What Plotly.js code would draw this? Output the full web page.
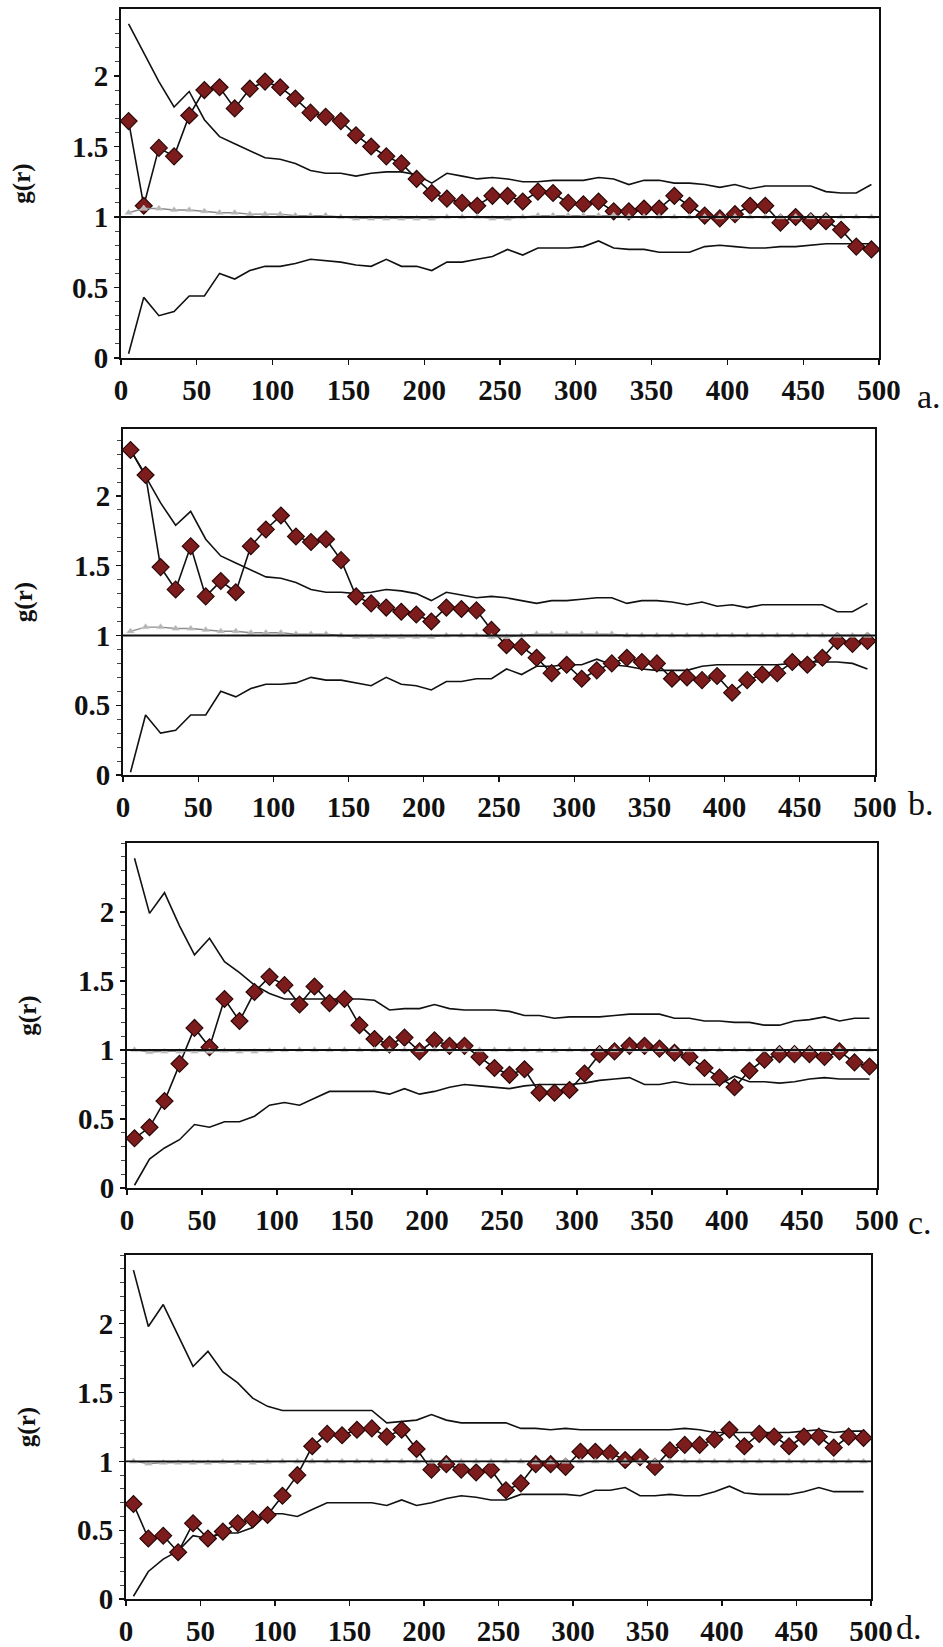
<!DOCTYPE html>
<html>
<head>
<meta charset="utf-8">
<script src="https://cdn.plot.ly/plotly-3.0.1.min.js"></script>
<style>
  html, body { margin: 0; padding: 0; background: #ffffff; }
  #chart { width: 943px; height: 1647px; }
</style>
</head>
<body>
<div id="chart"></div>
<script>
// ---------- DATA ----------
const rValues = [5,15,25,35,45,55,65,75,85,95,105,115,125,135,145,155,165,175,185,195,
  205,215,225,235,245,255,265,275,285,295,305,315,325,335,345,355,365,375,385,395,
  405,415,425,435,445,455,465,475,485,495];

const xTickVals = [0,50,100,150,200,250,300,350,400,450,500];
const yTickVals = [0,0.5,1,1.5,2];
const yTickText = ['0','0.5','1','1.5','2'];
const panelLabels = ['a.','b.','c.','d.'];
const yTitle = 'g(r)';
const referenceLevel = 1;

// Panel a
const gA = [1.68,1.08,1.49,1.43,1.72,1.90,1.92,1.77,1.91,1.96,1.92,1.84,1.74,1.71,1.68,1.58,1.50,1.43,1.38,1.27,
  1.17,1.13,1.10,1.08,1.15,1.15,1.11,1.18,1.17,1.10,1.09,1.11,1.04,1.04,1.06,1.06,1.15,1.08,1.01,0.99,
  1.02,1.08,1.08,0.96,1.00,0.97,0.97,0.91,0.79,0.77];
const upperA = [2.37,2.16,1.96,1.78,1.89,1.69,1.57,1.52,1.47,1.42,1.41,1.38,1.33,1.31,1.31,1.29,1.31,1.32,1.32,1.30,
  1.24,1.31,1.29,1.27,1.28,1.27,1.25,1.25,1.26,1.26,1.26,1.28,1.27,1.23,1.26,1.26,1.24,1.24,1.23,1.21,
  1.23,1.20,1.22,1.22,1.22,1.22,1.18,1.17,1.17,1.23];
const lowerA = [0.03,0.43,0.30,0.33,0.44,0.44,0.60,0.56,0.62,0.65,0.65,0.67,0.70,0.69,0.68,0.66,0.65,0.70,0.65,0.65,
  0.62,0.68,0.68,0.70,0.72,0.77,0.73,0.78,0.78,0.78,0.79,0.83,0.78,0.77,0.77,0.75,0.75,0.75,0.79,0.80,
  0.79,0.78,0.78,0.79,0.79,0.80,0.81,0.81,0.81,0.81];
const theoryA = [1.03,1.06,1.06,1.05,1.05,1.04,1.03,1.03,1.02,1.02,1.02,1.01,1.01,1.01,1.00,0.99,0.99,0.99,0.99,0.99,
  0.99,1.00,1.00,1.00,0.99,0.99,1.00,1.01,1.01,1.01,1.01,1.01,1.01,1.00,1.00,1.00,1.00,1.00,1.00,1.00,
  1.00,1.00,1.00,1.00,1.00,1.00,1.00,1.00,1.00,1.00];

// Panel b
const gB = [2.33,2.15,1.49,1.33,1.64,1.28,1.39,1.31,1.64,1.76,1.86,1.71,1.67,1.69,1.54,1.28,1.23,1.20,1.17,1.15,
  1.10,1.20,1.19,1.18,1.04,0.93,0.92,0.84,0.73,0.79,0.69,0.75,0.80,0.84,0.81,0.80,0.69,0.70,0.68,0.71,
  0.59,0.68,0.72,0.73,0.81,0.79,0.84,0.96,0.94,0.96];
const upperB = [2.33,2.14,1.95,1.79,1.89,1.69,1.57,1.52,1.47,1.42,1.41,1.38,1.33,1.31,1.31,1.30,1.31,1.33,1.32,1.30,
  1.25,1.31,1.29,1.27,1.28,1.27,1.25,1.23,1.25,1.25,1.26,1.27,1.27,1.23,1.25,1.25,1.24,1.22,1.24,1.21,
  1.22,1.20,1.22,1.22,1.22,1.22,1.22,1.17,1.17,1.23];
const lowerB = [0.02,0.43,0.30,0.32,0.43,0.43,0.60,0.56,0.62,0.65,0.65,0.66,0.70,0.68,0.68,0.66,0.64,0.70,0.65,0.64,
  0.61,0.67,0.67,0.69,0.69,0.76,0.72,0.78,0.78,0.79,0.79,0.83,0.79,0.78,0.76,0.75,0.75,0.75,0.78,0.79,
  0.79,0.79,0.79,0.79,0.80,0.81,0.81,0.81,0.80,0.76];
const theoryB = theoryA;

// Panel c
const gC = [0.36,0.44,0.63,0.90,1.16,1.02,1.37,1.21,1.42,1.53,1.47,1.33,1.46,1.34,1.37,1.18,1.08,1.04,1.09,0.99,
  1.07,1.03,1.03,0.95,0.87,0.82,0.86,0.69,0.69,0.71,0.83,0.97,0.99,1.03,1.03,1.01,0.98,0.95,0.87,0.80,
  0.73,0.85,0.93,0.97,0.97,0.97,0.95,0.99,0.91,0.88];
const upperC = [2.39,1.99,2.14,1.90,1.69,1.81,1.64,1.56,1.47,1.41,1.37,1.37,1.37,1.37,1.37,1.37,1.36,1.29,1.30,1.30,
  1.33,1.30,1.29,1.29,1.29,1.28,1.25,1.25,1.23,1.24,1.24,1.24,1.25,1.26,1.26,1.26,1.23,1.23,1.21,1.21,
  1.20,1.20,1.18,1.18,1.21,1.22,1.24,1.21,1.23,1.23];
const lowerC = [0.02,0.21,0.29,0.35,0.46,0.44,0.48,0.48,0.52,0.60,0.62,0.60,0.65,0.70,0.70,0.70,0.70,0.68,0.72,0.68,
  0.70,0.73,0.75,0.74,0.73,0.72,0.74,0.75,0.75,0.75,0.76,0.78,0.79,0.80,0.75,0.75,0.77,0.75,0.75,0.75,
  0.81,0.77,0.77,0.76,0.77,0.79,0.80,0.79,0.79,0.79];
const theoryC = [1.00,0.985,0.99,0.99,0.99,0.99,0.995,0.99,0.99,0.995,1.00,1.00,1.00,1.00,1.00,1.00,1.00,1.00,1.00,1.00,
  1.00,1.00,1.00,1.00,1.00,1.00,1.00,0.995,0.995,1.00,1.00,1.00,1.00,1.00,1.00,1.00,1.00,1.00,1.00,1.00,
  1.00,1.00,1.00,1.00,1.00,1.00,1.00,1.00,1.00,1.00];

// Panel d
const gD = [0.69,0.44,0.46,0.34,0.55,0.44,0.49,0.55,0.58,0.61,0.75,0.90,1.11,1.20,1.19,1.23,1.24,1.18,1.23,1.09,
  0.94,0.98,0.94,0.92,0.94,0.79,0.84,0.98,0.98,0.96,1.07,1.07,1.06,1.01,1.03,0.96,1.08,1.12,1.12,1.16,
  1.23,1.11,1.20,1.18,1.11,1.18,1.18,1.10,1.18,1.17];
const upperD = [2.39,1.98,2.14,1.91,1.69,1.80,1.65,1.57,1.46,1.40,1.37,1.37,1.37,1.37,1.37,1.37,1.37,1.28,1.29,1.30,
  1.34,1.30,1.28,1.28,1.28,1.28,1.24,1.24,1.23,1.24,1.23,1.23,1.23,1.23,1.23,1.23,1.23,1.24,1.23,1.21,
  1.21,1.21,1.21,1.21,1.21,1.22,1.23,1.21,1.22,1.22];
const lowerD = [0.02,0.20,0.29,0.35,0.46,0.44,0.48,0.48,0.52,0.62,0.62,0.60,0.65,0.70,0.70,0.70,0.70,0.68,0.72,0.68,
  0.70,0.73,0.75,0.74,0.72,0.72,0.76,0.76,0.76,0.76,0.75,0.79,0.79,0.81,0.75,0.75,0.76,0.75,0.75,0.78,
  0.82,0.77,0.76,0.76,0.76,0.78,0.81,0.78,0.78,0.78];
const theoryD = theoryC;

// ---------- BUILD ----------
const W = 943, H = 1647;
const boxes = [
  {l:121, r:879, t:9,    b:358,  ymax:2.475, lab:{x:915, y:396}},
  {l:123, r:875, t:429,  b:775,  ymax:2.48,  lab:{x:906, y:803}},
  {l:127, r:877, t:843,  b:1188, ymax:2.50,  lab:{x:906, y:1222}},
  {l:126, r:871, t:1255, b:1599, ymax:2.50,  lab:{x:894, y:1627}}
];
const panels = [
  {g:gA, up:upperA, lo:lowerA, th:theoryA},
  {g:gB, up:upperB, lo:lowerB, th:theoryB},
  {g:gC, up:upperC, lo:lowerC, th:theoryC},
  {g:gD, up:upperD, lo:lowerD, th:theoryD}
];

const serif = '"Liberation Serif", "Times New Roman", serif';
const traces = [];
const layout = {
  width: W, height: H, autosize: false,
  margin: {l:0, r:0, t:0, b:0, pad:0},
  paper_bgcolor: '#ffffff', plot_bgcolor: '#ffffff',
  showlegend: false,
  shapes: [], annotations: []
};

panels.forEach((p, i) => {
  const bx = boxes[i];
  const xa = i === 0 ? 'x' : 'x' + (i + 1);
  const ya = i === 0 ? 'y' : 'y' + (i + 1);
  const xKey = i === 0 ? 'xaxis' : 'xaxis' + (i + 1);
  const yKey = i === 0 ? 'yaxis' : 'yaxis' + (i + 1);

  const envLine = {color:'#111111', width:1.6};
  traces.push({x: rValues, y: p.up, xaxis: xa, yaxis: ya, type:'scatter', mode:'lines', line: envLine, hoverinfo:'skip'});
  traces.push({x: rValues, y: p.lo, xaxis: xa, yaxis: ya, type:'scatter', mode:'lines', line: envLine, hoverinfo:'skip'});
  traces.push({x: rValues, y: p.g, xaxis: xa, yaxis: ya, type:'scatter', mode:'lines+markers',
    line: {color:'#111111', width:1.6},
    marker: {symbol:'diamond', size:13, color:'#7d1c1c', line:{color:'#2b0808', width:1.2}}});
  traces.push({x: rValues, y: p.th, xaxis: xa, yaxis: ya, type:'scatter', mode:'lines+markers',
    line: {color:'#8c8c8c', width:1.4},
    marker: {symbol:'triangle-up', size:7, color:'#b4b4b4', line:{color:'#dddddd', width:0.5}}});

  const tf = {family: serif, size: 29, color: '#111', weight: 700};
  layout[xKey] = {
    domain: [bx.l / W, bx.r / W],
    anchor: ya,
    range: [0, 500],
    tickmode: 'array', tickvals: xTickVals,
    ticks: 'outside', ticklen: 5, tickwidth: 1.2, tickcolor: '#111',
    showline: true, linecolor: '#111', linewidth: 2, mirror: true,
    showgrid: false, zeroline: false,
    tickfont: tf
  };
  layout[yKey] = {
    domain: [1 - bx.b / H, 1 - bx.t / H],
    anchor: xa,
    range: [0, bx.ymax],
    tickmode: 'array', tickvals: yTickVals, ticktext: yTickText,
    ticks: 'outside', ticklen: 5, tickwidth: 1.2, tickcolor: '#111',
    minor: {dtick: 0.1, tick0: 0, ticks: 'outside', ticklen: 4, tickwidth: 1, tickcolor: '#444', showgrid: false},
    showline: true, linecolor: '#111', linewidth: 2, mirror: true,
    showgrid: false, zeroline: false,
    tickfont: tf,
    title: {text: yTitle, font: {family: serif, size: 25, color: '#111', weight: 700}, standoff: 34}
  };

  layout.shapes.push({type:'line', xref: xa, yref: ya, x0: 0, x1: 500, y0: referenceLevel, y1: referenceLevel,
    line: {color:'#111111', width:1.8}, layer:'above'});

  layout.annotations.push({
    text: panelLabels[i], xref:'paper', yref:'paper',
    x: bx.lab.x / W, y: 1 - bx.lab.y / H, xanchor:'left', yanchor:'middle',
    showarrow:false, font:{family: serif, size: 34, color:'#111'}
  });
});

Plotly.newPlot('chart', traces, layout, {staticPlot: true, displayModeBar: false});
</script>
</body>
</html>
